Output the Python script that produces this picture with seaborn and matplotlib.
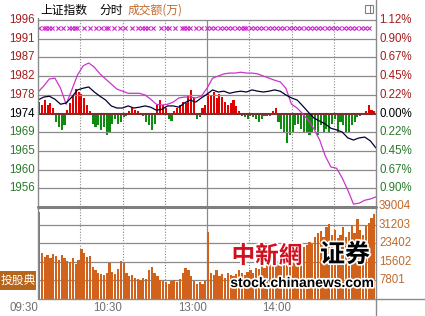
import numpy as np
import pandas as pd
import matplotlib
matplotlib.use("Agg")
import matplotlib.pyplot as plt
import seaborn as sns
from matplotlib.lines import Line2D
from matplotlib.patches import Rectangle
import matplotlib.patheffects as pe

# ---------------- data ----------------
prev_close = 1973.6
step_pct = 0.00225

left_labels = ['1996', '1991', '1987', '1982', '1978', '1974', '1969', '1965', '1960', '1956']
right_labels = ['1.12%', '0.90%', '0.67%', '0.45%', '0.22%', '0.00%', '0.22%', '0.45%', '0.67%', '0.90%']
vol_ticks = [39004, 31203, 23402, 15602, 7801]
vol_labels = ['39004', '31203', '23402', '15602', '7801']
time_labels = ['09:30', '10:30', '13:00', '14:00']
time_label_minutes = [0, 60, 120, 180]

# price lines, one point every 4 minutes (09:30 .. 15:00)
line_minutes = list(range(0, 241, 4))
index_prices = [1976.8, 1977.5, 1977.7, 1977.0, 1975.8, 1976.1, 1977.5, 1979.2, 1979.6, 1979.9,
                1978.7, 1977.7, 1976.8, 1975.4, 1974.9, 1974.9, 1975.4, 1974.9, 1975.1, 1975.4,
                1975.1, 1974.4, 1974.6, 1975.4, 1975.4, 1975.1, 1976.1, 1976.8, 1976.3, 1977.3,
                1978.2, 1979.2, 1978.7, 1978.9, 1978.4, 1978.7, 1978.9, 1978.7, 1979.2, 1978.9,
                1978.7, 1978.9, 1979.2, 1978.9, 1978.0, 1977.3, 1976.8, 1975.4, 1973.9, 1972.5,
                1971.8, 1971.1, 1970.1, 1969.7, 1969.2, 1967.8, 1967.3, 1967.8, 1968.0, 1967.1,
                1965.4]
lead_prices = [1978.7, 1980.1, 1981.8, 1982.0, 1979.6, 1975.8, 1979.2, 1982.7, 1984.9, 1985.6,
               1984.6, 1983.0, 1981.8, 1980.6, 1979.4, 1978.9, 1978.4, 1978.4, 1978.4, 1978.0,
               1977.0, 1975.8, 1975.6, 1975.8, 1976.3, 1977.3, 1977.5, 1977.5, 1977.3, 1977.7,
               1979.6, 1982.0, 1982.5, 1983.0, 1983.2, 1983.2, 1983.4, 1983.2, 1983.2, 1983.0,
               1982.5, 1982.0, 1981.5, 1981.1, 1979.6, 1975.8, 1974.9, 1973.5, 1972.0, 1969.9,
               1967.3, 1963.5, 1960.9, 1960.6, 1958.3, 1955.4, 1952.1, 1952.3, 1953.0, 1953.3,
               1953.8]

# red/green bars (points vs previous close), one every 2 minutes
bar_minutes = [2 * i + 0.8 for i in range(120)]
breadth = [2.8, 2.1, 3.1, 1.9, 2.4, 1.4, -1.9, -3.3, -4.0, -2.8,
           0.9, 2.4, 4.3, 5.9, 5.2, 4.7, 3.6, 1.9, 0.5, -2.4,
           -3.3, -2.8, -3.8, -3.1, -5.2, -4.3, -2.4, -1.4, -2.4, -1.9,
           -0.9, -0.7, 0.7, 1.4, 0.9, 0.5, 0.2, -0.5, -1.9, -2.8,
           -4.0, -2.4, 1.9, 3.1, 2.1, 1.2, -1.2, -1.7, 0.5, 1.2,
           1.9, 2.8, 2.4, 4.3, 5.5, 3.6, -1.4, -0.9, 1.2, 1.9,
           4.7, 4.3, 5.2, 3.6, 4.7, 3.8, 2.8, 1.9, 2.4, 3.3,
           1.7, 0.7, -0.7, -0.9, -1.2, -0.5, -0.9, -1.4, -1.9, -1.2,
           -0.7, -0.5, -0.7, 0.5, 1.2, -1.9, -3.6, -4.7, -7.1, -5.2,
           -4.3, -2.8, -2.4, -3.6, -4.7, -4.3, -5.2, -4.5, -3.8, -5.2,
           -2.8, -4.7, -3.6, -4.3, -2.4, -1.4, -4.5, -1.9, -2.8, -4.3,
           -4.5, -2.8, -1.9, -0.9, -0.5, 0.2, 0.7, 1.9, 0.9, 0.5]

volume = [36460, 19500, 17500, 18500, 17000, 19000, 18000, 16500, 18500, 17000,
          16000, 15500, 17000, 14500, 16500, 20800, 19500, 17500, 18000, 13500,
          12000, 11000, 10500, 10000, 11000, 15000, 11500, 10500, 12500, 16000,
          15000, 11000, 9500, 10000, 9000, 8500, 8000, 9000, 8500, 12000,
          13500, 11000, 9500, 8000, 7500, 7000, 6500, 7500, 8000, 7000,
          8500, 11000, 13000, 12000, 9500, 7500, 6500, 7000, 6500, 7500,
          28000, 11000, 10000, 12000, 9500, 10500, 9000, 11000, 10000, 9500,
          10500, 12000, 11000, 10000, 11500, 12000, 11000, 13000, 12500, 14000,
          13000, 15000, 14500, 16000, 15500, 16000, 17000, 15500, 18000, 17500,
          19000, 18500, 20000, 21000, 22000, 22500, 24000, 23000, 26000, 27500,
          28500, 26000, 30000, 31500, 27000, 29000, 25500, 27000, 30000, 26000,
          28000, 31000, 27500, 33500, 29000, 27000, 30500, 32000, 34000, 35500]

marker_price = 1993.9
marker_minutes = [1, 4, 6, 8, 10, 14, 18, 22, 24, 26, 28, 33, 37, 41, 45, 48, 50, 54, 58, 62,
                  67, 71, 74, 76, 78, 82, 87, 91, 93, 97, 102, 104, 106, 108, 112, 116,
                  120, 123, 126, 129, 132, 135, 138, 141, 144, 146, 148, 151, 154, 157, 160,
                  163, 166, 169, 172, 175, 178, 181, 184, 187, 190, 193, 196, 199, 202, 205,
                  208, 211, 214, 217, 220, 223, 226, 229, 232, 235]

# ---------------- style ----------------
sns.set_theme(style="white")
plt.rcParams['font.family'] = ['Liberation Sans', 'Noto Sans CJK SC', 'DejaVu Sans']
CJK = ['Noto Sans CJK SC', 'DejaVu Sans']

W, H = 425, 316
fig = plt.figure(figsize=(W / 100, H / 100), dpi=100)
fig.patch.set_facecolor('white')


def fx(x):
    return x / W


def fy(y):
    return 1 - y / H


L, R, T, MID, B = 38, 376, 20, 207, 299
ax = fig.add_axes([fx(L), fy(MID), fx(R) - fx(L), fy(T) - fy(MID)])
axv = fig.add_axes([fx(L), fy(B), fx(R) - fx(L), fy(206) - fy(B)])

s = prev_close * step_pct
grid_c = '#8a8a8a'

# breadth bars
bdf = pd.DataFrame({'minute': bar_minutes, 'val': breadth})
sns.barplot(data=bdf[bdf.val >= 0], x='minute', y='val', native_scale=True, orient='x',
            color='#e00000', saturation=1, width=0.75, errorbar=None, linewidth=0, ax=ax)
sns.barplot(data=bdf[bdf.val < 0], x='minute', y='val', native_scale=True, orient='x',
            color='#118a11', saturation=1, width=0.75, errorbar=None, linewidth=0, ax=ax)

# lines
sns.lineplot(x=line_minutes, y=np.array(lead_prices) - prev_close, color='#cc33cc', lw=0.9, ax=ax, zorder=4)
sns.lineplot(x=line_minutes, y=np.array(index_prices) - prev_close, color='#000033', lw=0.9, ax=ax, zorder=5)
sns.scatterplot(x=marker_minutes, y=[marker_price - prev_close] * len(marker_minutes), marker='x',
                color='#cc22cc', s=9, linewidth=0.8, ax=ax, zorder=5)

# volume bars
vdf = pd.DataFrame({'minute': bar_minutes, 'vol': volume})
sns.barplot(data=vdf, x='minute', y='vol', native_scale=True, orient='x', color='#d0621c',
            saturation=1, width=0.8, errorbar=None, linewidth=0, ax=axv)

for a in (ax, axv):
    a.set_xlim(0, 240)
    a.set_xlabel('')
    a.set_ylabel('')
    a.axis('off')
ax.set_ylim(-5 * s, 5 * s)
axv.set_ylim(0, 39004)

# horizontal grid
for k in range(-4, 6):
    if k == 0:
        continue
    ax.axhline(k * s, color=grid_c, lw=0.9, zorder=1, clip_on=False)
ax.axhline(0, color='#7a3030', lw=1.5, zorder=3)
for v in vol_ticks[1:]:
    axv.axhline(v, color=grid_c, lw=0.9, zorder=0)

# vertical grid
for a in (ax, axv):
    for m in [30, 60, 90, 150, 180, 210]:
        a.axvline(m, color=grid_c, lw=0.8, ls=(0, (1, 1.5)), zorder=0)
    a.axvline(120, color=grid_c, lw=0.9, zorder=0)

# figure-level frame lines
fig.add_artist(Line2D([fx(R), fx(R)], [fy(0), fy(H)], color=grid_c, lw=1))
fig.add_artist(Line2D([fx(L), fx(L)], [fy(18), fy(B)], color=grid_c, lw=1))
fig.add_artist(Line2D([fx(L), fx(W)], [fy(B), fy(B)], color=grid_c, lw=1))
fig.add_artist(Line2D([fx(L), fx(R)], [fy(206.5), fy(206.5)], color='#7f7f7f', lw=2.2))

# price axis labels
up_c, dn_c = '#a51c1c', '#2a7a2a'
for i, (ll, rl) in enumerate(zip(left_labels, right_labels)):
    k = 5 - i
    c = up_c if k > 0 else ('black' if k == 0 else dn_c)
    ax.text(-3 / 338, k * s, ll, transform=ax.get_yaxis_transform(), ha='right', va='center',
            fontsize=8.3, color=c)
    ax.text(1 + 3 / 338, k * s, rl, transform=ax.get_yaxis_transform(), ha='left', va='center',
            fontsize=8.3, color=c)
for v, lab in zip(vol_ticks, vol_labels):
    axv.text(1 + 3 / 338, v, lab, transform=axv.get_yaxis_transform(), ha='left', va='center',
             fontsize=8.3, color='#c0692f')
for m, lab in zip(time_label_minutes, time_labels):
    axv.text(m, -9 / 93, lab, transform=axv.get_xaxis_transform(), ha='right', va='center',
             fontsize=8.3, color='#707070')

# title
fig.text(fx(40), fy(10), '上证指数', family=CJK, fontsize=8.5, va='center', color='black')
fig.text(fx(99), fy(10), '分时', family=CJK, fontsize=8.5, va='center', color='black')
fig.text(fx(128), fy(10), '成交额(万)', family=CJK, fontsize=8.5, va='center', color='#c0692f')

# small icon top right
fig.add_artist(Rectangle((fx(365), fy(13)), fx(8), 8 / H, fill=False, ec='#808080', lw=0.8))
fig.add_artist(Line2D([fx(370), fx(370)], [fy(13), fy(5)], color='#808080', lw=0.8))

# left box
fig.add_artist(Rectangle((0, fy(290)), fx(36), 19 / H, color='#b8651c', lw=0))
fig.text(fx(18), fy(280.5), '投股典', family=CJK, fontsize=8.5, ha='center', va='center', color='white')

# watermark
stroke = [pe.withStroke(linewidth=2.5, foreground='white')]
fig.text(fx(267), fy(256), '中新網', family=['Noto Sans CJK TC', 'DejaVu Sans'], fontsize=17,
         fontweight='bold', ha='center', va='center', color='#d01020', path_effects=stroke)
fig.text(fx(345), fy(255), '证券', family=CJK, fontsize=18, fontweight='bold', ha='center',
         va='center', color='black', path_effects=stroke)
fig.text(fx(302), fy(283), 'stock.chinanews.com', family=['Liberation Sans', 'DejaVu Sans'],
         fontsize=10, fontweight='bold', ha='center', va='center', color='black', path_effects=stroke)

fig.savefig('out.png', dpi=100)
